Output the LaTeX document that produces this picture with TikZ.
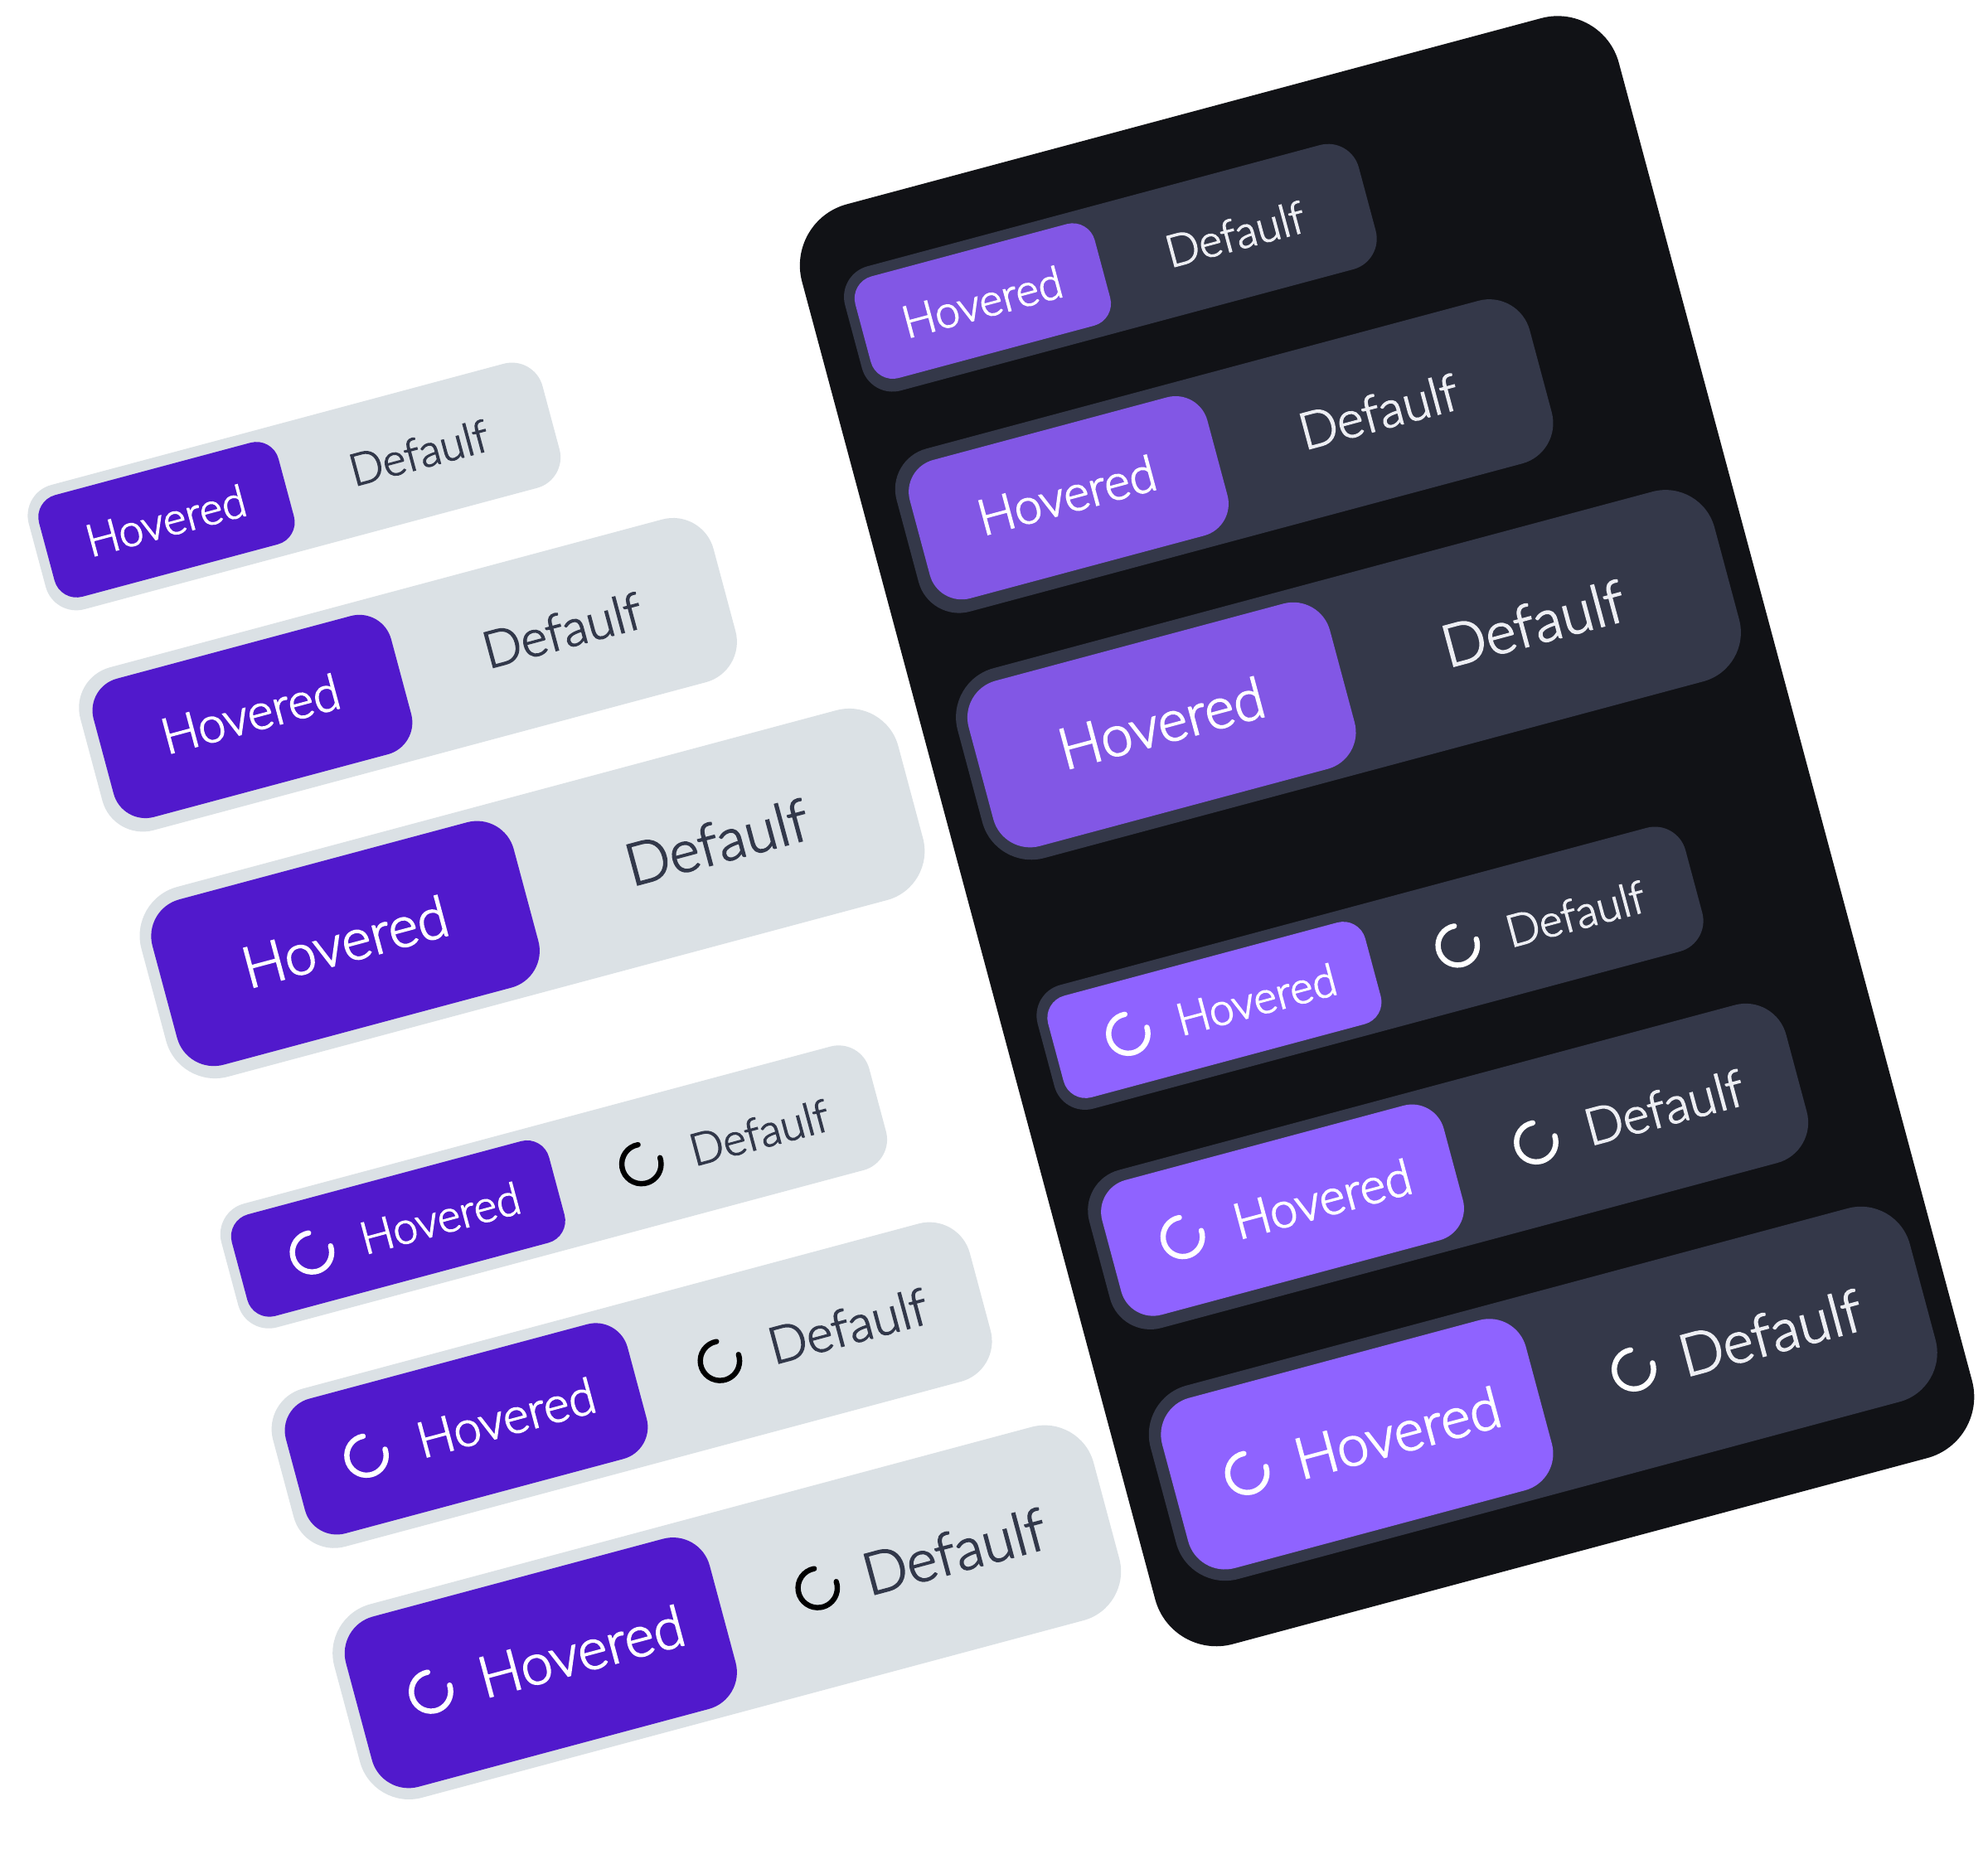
\documentclass[tikz,border=0pt]{standalone}
\usepackage{fontspec}
\setmainfont{Lato Light}[FakeBold=2.5]
\definecolor{cardc}{HTML}{111216}
\definecolor{lightout}{HTML}{DBE1E5}
\definecolor{lightin}{HTML}{5119CC}
\definecolor{darkout}{HTML}{343849}
\definecolor{darkin}{HTML}{8257E5}
\definecolor{darkspin}{HTML}{8F63FF}
\definecolor{lighttxt}{HTML}{32384A}
\definecolor{darktxt}{HTML}{EDEEF3}
\tikzset{
  box/.style={draw=none,inner sep=0pt,rectangle},
  label/.style={inner sep=0pt,anchor=center,font=\fontsize{#1}{#1}\selectfont},
  spinner/.style={line width=4.2pt,line cap=round},
}
% rows: id / outer u1,u2,v1,v2,r / inner u1,u2,v1,v2,r / hovered u, default u, text v, hover size, default size
\newcommand\Rows[7]{%
 \begin{scope}[xshift=#2pt]
 \foreach \id/\a/\b/\c/\d/\r/\e/\f/\g/\h/\s/\hu/\du/\tv/\fs/\gs in {
   1/-85/334.5/380/481.5/25/-77/118.5/388.5/471.5/18/20/226.5/430.5/35/35,
   2/-85.5/431.5/531/664/33/-75.5/167.5/541/654/26/45/299.5/595/39/40,
   3/-86/532/712/867/40/-77/218/722/857/30/70.5/374/788/45/46,
   4/-85/444/967/1068/25/-77/182/976/1059/18/86.5/347/1018/35/35,
   5/-86/483/1120/1249/33/-76/203/1129/1239/26/96/375/1183.5/39/40,
   6/-85.5/534.5/1298/1456/40/-76/221/1308/1447/30/105.5/410/1377/45/46}{
   \ifnum\id<4 \def\incol{#4}\else\def\incol{#5}\fi
   \node[box,fill=#3,rounded corners=\r pt,minimum width={(\b-\a)*1pt},minimum height={(\d-\c)*1pt}]
     (#1o\id) at ({(\a+\b)/2},{-(\c+\d)/2}) {};
   \node[box,fill=\incol,rounded corners=\s pt,minimum width={(\f-\e)*1pt},minimum height={(\h-\g)*1pt}]
     (#1i\id) at ({(\e+\f)/2},{-(\g+\h)/2}) {};
   \node[label=\fs,text=white] (#1h\id) at (\hu,-\tv) {Hovered};
   \node[label=\gs,text=#6] (#1d\id) at (\du,-\tv) {Defaulf};
 }
 \foreach \id/\su/\sv/\tu in {4/-18/1018/251,5/-18/1184/270.6,6/-17/1377/298.7}{
   \coordinate (#1sa\id) at (\su,-\sv);
   \coordinate (#1sb\id) at (\tu,-\sv);
   \draw[white,spinner] ([shift={(85:15.5)}]#1sa\id) arc[start angle=85,end angle=364,radius=15.5];
   \draw[#7,spinner] ([shift={(85:15.5)}]#1sb\id) arc[start angle=85,end angle=364,radius=15.5];
 }
 \end{scope}
}
\begin{document}
\begin{tikzpicture}[x=1pt,y=1pt]
\useasboundingbox (0,0) rectangle (1568,-1474.4);
\begin{scope}[rotate=15,transform shape]
  \node[box,fill=cardc,rounded corners=50pt,minimum width=667pt,minimum height=1176pt] (card) at (887,-916.5) {};
  \Rows{L}{0}{lightout}{lightin}{lightin}{lighttxt}{black}
  \Rows{D}{666.5}{darkout}{darkin}{darkspin}{darktxt}{white}
\end{scope}
\end{tikzpicture}
\end{document}
